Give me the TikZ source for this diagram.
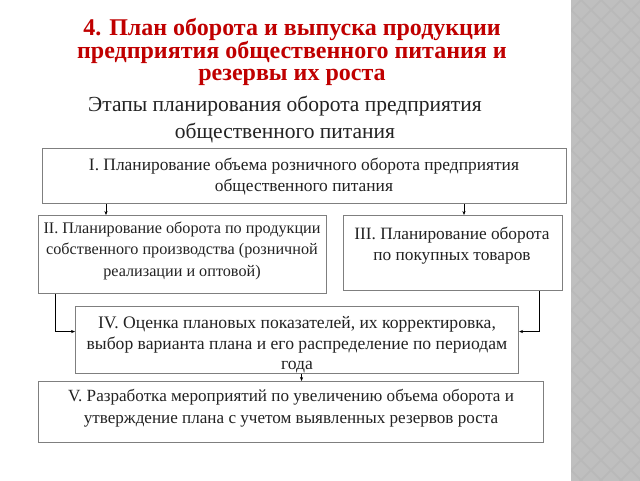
\documentclass[tikz,border=0pt]{standalone}
\usepackage{fontspec}
\setmainfont{Liberation Serif}
\usetikzlibrary{arrows.meta}
\definecolor{boxgray}{HTML}{7F7F7F}
\definecolor{titlered}{HTML}{C00000}
\definecolor{stripgray}{HTML}{B9B9B9}
\definecolor{stripdiam}{HTML}{BFBFBF}
\definecolor{txtblack}{HTML}{222222}
\begin{document}
\begin{tikzpicture}[x=1pt,y=-1pt,
  box/.style={draw=boxgray, line width=1.1pt, inner sep=0pt, fill=white},
  txt/.style={align=center, inner sep=0pt, text=txtblack},
  conn/.style={line width=0.6pt, draw=black, -{Stealth[length=4pt,width=3.2pt]}}]
\useasboundingbox (0,0) rectangle (640,480);
\fill[white] (0,0) rectangle (640,480);
% decorative strip
\fill[stripgray] (571,-5) rectangle (645,485);
\begin{scope}
\clip (571,-5) rectangle (645,485);
\foreach \i in {0,...,4}{
  \foreach \j in {0,...,50}{
    \pgfmathsetmacro{\cx}{571+\i*20+mod(\j,2)*10}
    \pgfmathsetmacro{\cy}{\j*10}
    \fill[stripdiam] (\cx,\cy-8.5) -- (\cx+8.5,\cy) -- (\cx,\cy+8.5) -- (\cx-8.5,\cy) -- cycle;
  }
}
\end{scope}
% title
\node[align=center, inner sep=0pt, text=titlered, font=\fontsize{24}{22.5}\selectfont\bfseries] (title) at (292,52)
  {4. План оборота и выпуска продукции\\предприятия общественного питания и\\резервы их роста};
\node[align=center, inner sep=0pt, text=txtblack, font=\fontsize{21.5}{27}\selectfont] (subtitle) at (285,120)
  {Этапы планирования оборота предприятия\\общественного питания};
% boxes
\node[box, minimum width=524pt, minimum height=55pt, anchor=north west] (b1) at (42,148) {};
\node[box, minimum width=288pt, minimum height=78pt, anchor=north west] (b2) at (38,215) {};
\node[box, minimum width=219pt, minimum height=75pt, anchor=north west] (b3) at (343,215) {};
\node[box, minimum width=443pt, minimum height=67pt, anchor=north west] (b4) at (75,306) {};
\node[box, minimum width=505pt, minimum height=61pt, anchor=north west] (b5) at (38,381) {};
% texts
\node[txt, font=\fontsize{17.4}{21}\selectfont] (t1) at (304,177) {I. Планирование объема розничного оборота предприятия\\общественного питания};
\node[txt, font=\fontsize{16.2}{21.5}\selectfont] (t2) at (182,250.5) {II. Планирование оборота по продукции\\собственного производства (розничной\\реализации и оптовой)};
\node[txt, font=\fontsize{17.3}{21}\selectfont] (t3) at (452,246) {III. Планирование оборота\\по покупных товаров};
\node[txt, font=\fontsize{17.6}{20.5}\selectfont] (t4) at (297,345) {IV. Оценка плановых показателей, их корректировка,\\выбор варианта плана и его распределение по периодам\\года};
\node[txt, font=\fontsize{17.1}{22}\selectfont] (t5) at (291,408) {V. Разработка мероприятий по увеличению объема оборота и\\утверждение плана с учетом выявленных резервов роста};
% connectors
\draw[conn] ([xshift=64pt]b1.south west) -- ([xshift=64pt]b1.south west |- b2.north);
\draw[conn] ([xshift=422pt]b1.south west) -- ([xshift=422pt]b1.south west |- b3.north);
\draw[conn] ([xshift=17pt]b2.south west) |- ([yshift=8.5pt]b4.west);
\draw[conn] ([xshift=-24pt]b3.south east) |- ([yshift=8.5pt]b4.east);
\draw[conn] ([xshift=4.5pt]b4.south) -- ([xshift=4.5pt]b4.south |- b5.north);
\end{tikzpicture}
\end{document}
